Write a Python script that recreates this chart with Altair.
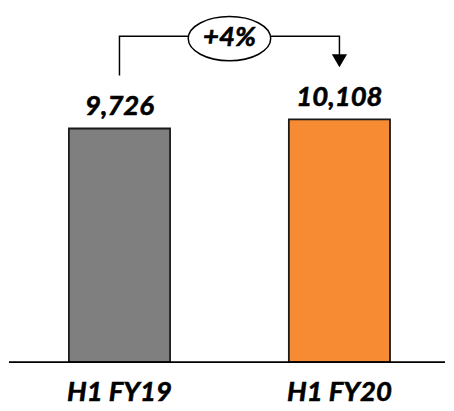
import altair as alt
import pandas as pd

# ---- data ----
periods = ["H1 FY19", "H1 FY20"]
revenue = [9726, 10108]
bar_colors = ["#7F7F7F", "#F68B33"]
change_label = "+4%"

# ---- layout (data units of the y scale) ----
Y_MAX = 14590
BRACKET_TOP = 13568
LEFT_STEM_BOTTOM = 11933
ARROW_STEM_BOTTOM = 12790
ARROW_HEAD = 12546
ELLIPSE_Y = 13466
PCT_TEXT_Y = 13159

FONT = "Lato"
TEXT_STYLE = dict(font=FONT, fontSize=28, fontWeight="bold", fontStyle="italic",
                  color="black", stroke="black", strokeWidth=0.6)

bars_df = pd.DataFrame({"period": periods, "value": revenue, "color": bar_colors})
bars_df["label"] = [f"{v:,}" for v in revenue]
bars_df["zero"] = 0

bracket_df = pd.DataFrame({
    "period": [periods[0], periods[0], periods[1], periods[1]],
    "y": [LEFT_STEM_BOTTOM, BRACKET_TOP, BRACKET_TOP, ARROW_STEM_BOTTOM],
    "order": [0, 1, 2, 3],
})
arrow_df = pd.DataFrame({"period": [periods[1]], "y": [ARROW_HEAD]})
mid_df = pd.DataFrame({"period": [periods[0]], "y": [ELLIPSE_Y], "yt": [PCT_TEXT_Y], "label": [change_label]})

x_scale = alt.Scale(domain=periods, range=[5, 444], paddingInner=0.54, paddingOuter=0.25)
x_enc = alt.X("period:N", scale=x_scale, axis=None)
y_scale = alt.Scale(domain=[0, Y_MAX], nice=False, zero=True)

bars = alt.Chart(bars_df).mark_bar(stroke="#1a1a1a", strokeWidth=1.8).encode(
    x=x_enc,
    y=alt.Y("value:Q", scale=y_scale, axis=None),
    color=alt.Color("color:N", scale=None),
)

baseline = alt.Chart(bars_df).mark_rule(color="black", strokeWidth=1.5).encode(
    x=alt.value(0), x2=alt.value(444),
    y=alt.Y("zero:Q", scale=y_scale),
)

labels = alt.Chart(bars_df).mark_text(baseline="alphabetic", dy=-14, **TEXT_STYLE).encode(
    x=x_enc,
    y=alt.Y("value:Q", scale=y_scale),
    text="label:N",
)

cat_labels = alt.Chart(bars_df).mark_text(baseline="alphabetic", dy=40, **TEXT_STYLE).encode(
    x=x_enc,
    y=alt.Y("zero:Q", scale=y_scale),
    text="period:N",
)

bracket = alt.Chart(bracket_df).mark_line(color="black", strokeWidth=1.5, strokeJoin="miter").encode(
    x=x_enc,
    y=alt.Y("y:Q", scale=y_scale),
    order="order:Q",
)

arrow = alt.Chart(arrow_df).mark_point(
    shape="triangle-down", filled=True, color="black", size=240, opacity=1,
).encode(
    x=x_enc,
    y=alt.Y("y:Q", scale=y_scale),
)

ellipse_path = ("M-1,0 C-1,-0.296 -0.552,-0.536 0,-0.536 C0.552,-0.536 1,-0.296 1,0 "
                "C1,0.296 0.552,0.536 0,0.536 C-0.552,0.536 -1,0.296 -1,0 Z")
ellipse = alt.Chart(mid_df).mark_point(
    shape=ellipse_path, filled=False, fill="white", fillOpacity=1, stroke="black",
    strokeWidth=1.5, size=84 * 84, opacity=1, xOffset=112,
).encode(
    x=x_enc,
    y=alt.Y("y:Q", scale=y_scale),
)

pct = alt.Chart(mid_df).mark_text(baseline="alphabetic", xOffset=112, **TEXT_STYLE).encode(
    x=x_enc,
    y=alt.Y("yt:Q", scale=y_scale),
    text="label:N",
)

chart = alt.layer(bars, baseline, labels, cat_labels, bracket, arrow, ellipse, pct).properties(
    width=444, height=357,
    autosize=alt.AutoSizeParams(type="none"),
    padding={"left": 1, "top": 0, "right": 1, "bottom": 46},
).configure_view(stroke=None)

chart.save("out.html", embed_options={"renderer": "svg", "actions": False})
